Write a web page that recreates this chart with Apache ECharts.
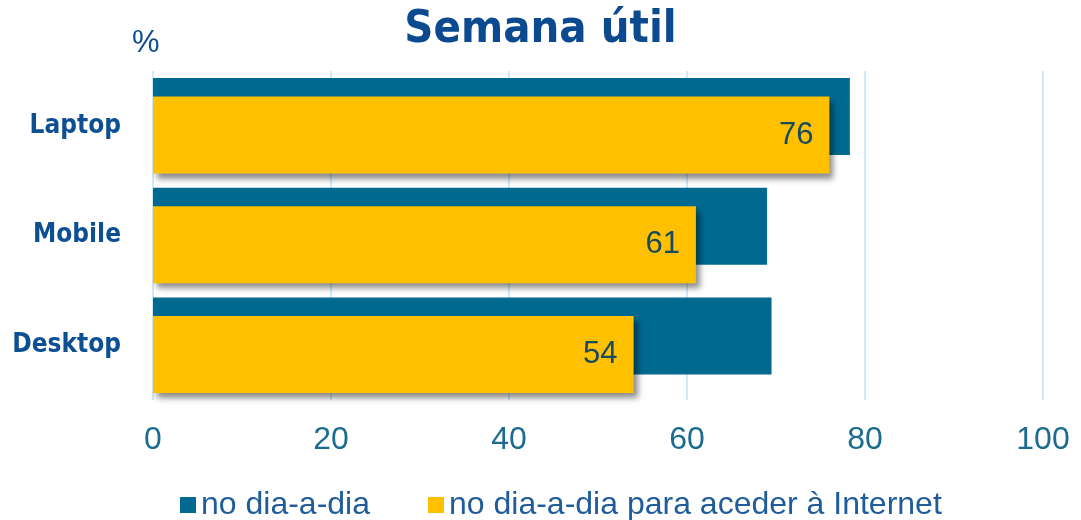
<!DOCTYPE html>
<html>
<head>
<meta charset="utf-8">
<script src="https://cdn.jsdelivr.net/npm/echarts@6/dist/echarts.min.js"></script>
<style>
  html, body { margin: 0; padding: 0; background: #fff; }
  #chart { width: 1081px; height: 520px; }
</style>
</head>
<body>
<div id="chart"></div>
<script>
// dados
const categorias = ['Laptop', 'Mobile', 'Desktop'];
const diaADia = [78.3, 69, 69.5];
const diaADiaInternet = [76, 61, 54];
const ticksX = [0, 20, 40, 60, 80, 100];

const chart = echarts.init(document.getElementById('chart'));

const option = {
  animation: false,
  title: [
    {
      text: 'Semana útil',
      left: 'center',
      top: 3,
      textStyle: {
        fontFamily: 'DejaVu Sans Condensed',
        fontWeight: 'bold',
        fontSize: 45,
        color: '#0C4A8F'
      }
    },
    {
      text: '%',
      left: 127,
      top: 23,
      textStyle: {
        fontFamily: 'Liberation Sans',
        fontWeight: 'normal',
        fontSize: 31,
        color: '#0F4D92'
      }
    }
  ],
  legend: {
    left: 175,
    top: 484,
    itemWidth: 16,
    itemHeight: 16,
    itemGap: 58,
    icon: 'rect',
    textStyle: {
      fontFamily: 'Liberation Sans',
      fontSize: 32,
      color: '#1F5C99'
    },
    data: ['no dia-a-dia', 'no dia-a-dia para aceder à Internet']
  },
  grid: {
    left: 153,
    right: 38,
    top: 71,
    bottom: 120
  },
  xAxis: {
    type: 'value',
    min: ticksX[0],
    max: ticksX[ticksX.length - 1],
    interval: 20,
    axisLine: { show: false },
    axisTick: { show: false },
    splitLine: { lineStyle: { color: '#CDEBF7', width: 2 } },
    axisLabel: {
      margin: 24,
      fontFamily: 'Liberation Sans',
      fontSize: 32,
      color: '#1B6C8F'
    }
  },
  yAxis: {
    type: 'category',
    data: categorias,
    inverse: true,
    axisLine: { show: false },
    axisTick: { show: false },
    axisLabel: {
      margin: 32,
      fontFamily: 'DejaVu Sans Condensed',
      fontWeight: 'bold',
      fontSize: 26,
      color: '#0C4F93'
    }
  },
  series: [
    {
      name: 'no dia-a-dia',
      type: 'bar',
      data: diaADia,
      barWidth: 77,
      barGap: '-76%',
      itemStyle: { color: '#006990' }
    },
    {
      name: 'no dia-a-dia para aceder à Internet',
      type: 'bar',
      data: diaADiaInternet,
      barWidth: 77,
      itemStyle: {
        color: '#FFC000',
        shadowBlur: 6,
        shadowOffsetX: 4,
        shadowOffsetY: 5,
        shadowColor: 'rgba(0,0,0,0.45)'
      },
      label: {
        show: true,
        position: 'insideRight',
        distance: 16,
        fontFamily: 'Liberation Sans',
        fontSize: 31,
        color: '#164A5E'
      }
    }
  ]
};

chart.setOption(option);
</script>
</body>
</html>
